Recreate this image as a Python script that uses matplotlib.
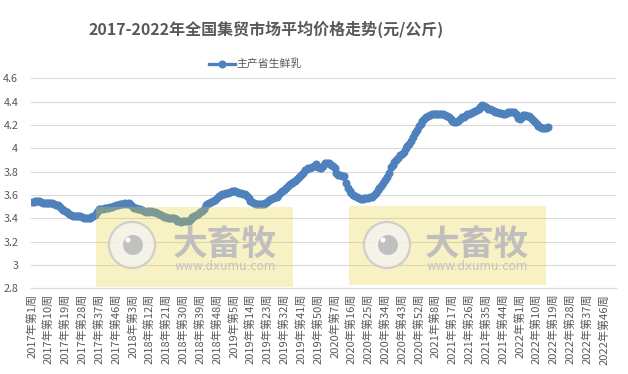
import matplotlib
matplotlib.use("Agg")
import matplotlib.pyplot as plt
from matplotlib.patches import Rectangle, Circle
from matplotlib.lines import Line2D
from matplotlib.ticker import FixedLocator, FuncFormatter

plt.rcParams['font.family'] = ['Noto Sans CJK SC', 'DejaVu Sans']

title = "2017-2022年全国集贸市场平均价格走势(元/公斤)"
series_name = "主产省生鲜乳"

years = [2017, 2018, 2019, 2020, 2021, 2022]
weeks_in_year = [52, 52, 52, 53, 52, 52]

v2017 = [3.54, 3.54, 3.55, 3.55, 3.55, 3.54, 3.535, 3.53, 3.53, 3.53,
         3.53, 3.53, 3.52, 3.51, 3.51, 3.50, 3.48, 3.47, 3.46, 3.45,
         3.44, 3.43, 3.42, 3.42, 3.42, 3.42, 3.42, 3.41, 3.40, 3.40,
         3.40, 3.40, 3.41, 3.42, 3.43, 3.45, 3.48, 3.48, 3.48, 3.49,
         3.49, 3.49, 3.50, 3.50, 3.505, 3.51, 3.51, 3.52, 3.52, 3.52, 3.53, 3.52]
v2018 = [3.53, 3.51, 3.50, 3.49, 3.49, 3.48, 3.48, 3.47, 3.46, 3.455,
         3.46, 3.455, 3.46, 3.455, 3.45, 3.445, 3.44, 3.43, 3.42, 3.41,
         3.41, 3.40, 3.40, 3.40, 3.40, 3.39, 3.38, 3.38, 3.37, 3.375,
         3.38, 3.375, 3.38, 3.39, 3.41, 3.42, 3.43, 3.44, 3.45, 3.46,
         3.48, 3.51, 3.52, 3.53, 3.54, 3.545, 3.56, 3.575, 3.59, 3.60, 3.605, 3.61]
v2019 = [3.615, 3.62, 3.625, 3.63, 3.635, 3.63, 3.625, 3.62, 3.62, 3.61,
         3.605, 3.59, 3.57, 3.55, 3.54, 3.53, 3.525, 3.52, 3.52, 3.52,
         3.525, 3.53, 3.54, 3.555, 3.565, 3.57, 3.58, 3.585, 3.60, 3.62,
         3.63, 3.645, 3.66, 3.68, 3.69, 3.70, 3.71, 3.72, 3.74, 3.755,
         3.77, 3.79, 3.81, 3.825, 3.83, 3.835, 3.84, 3.85, 3.865, 3.84, 3.83, 3.83]
v2020 = [3.85, 3.87, 3.875, 3.87, 3.86, 3.845, 3.83, 3.79, 3.775, 3.77,
         3.765, 3.76, 3.70, 3.66, 3.635, 3.62, 3.60, 3.59, 3.58, 3.57,
         3.565, 3.565, 3.57, 3.57, 3.575, 3.58, 3.585, 3.60, 3.62, 3.645,
         3.66, 3.68, 3.70, 3.725, 3.75, 3.79, 3.84, 3.86, 3.885, 3.90,
         3.92, 3.94, 3.95, 3.97, 4.00, 4.02, 4.04, 4.065, 4.10, 4.13, 4.16, 4.19, 4.21]
v2021 = [4.23, 4.25, 4.265, 4.275, 4.285, 4.29, 4.295, 4.295, 4.29, 4.29,
         4.295, 4.29, 4.285, 4.28, 4.27, 4.25, 4.235, 4.225, 4.225, 4.235,
         4.25, 4.265, 4.27, 4.28, 4.29, 4.295, 4.30, 4.31, 4.32, 4.325,
         4.34, 4.355, 4.37, 4.365, 4.35, 4.34, 4.335, 4.33, 4.32, 4.315,
         4.31, 4.30, 4.30, 4.295, 4.295, 4.305, 4.315, 4.315, 4.315, 4.31, 4.29, 4.26]
v2022 = [4.25, 4.27, 4.285, 4.285, 4.28, 4.275, 4.26, 4.24, 4.225, 4.21,
         4.195, 4.185, 4.175, 4.17, 4.175, 4.18]

yticks = [2.8, 3.0, 3.2, 3.4, 3.6, 3.8, 4.0, 4.2, 4.4, 4.6]
label_step = 9

categories = [f"{y}年第{w}周" for y, n in zip(years, weeks_in_year) for w in range(1, n + 1)]
values = v2017 + v2018 + v2019 + v2020 + v2021 + v2022

W, H = 628, 374
fig = plt.figure(figsize=(W / 100, H / 100), dpi=100)
ax = fig.add_axes([30.7 / W, 1 - 288.3 / H, (616 - 30.7) / W, (288.3 - 78.3) / H])

text_color = '#595959'
grid_color = '#D9D9D9'
blue = '#4F81BD'

x = list(range(len(values)))
ax.plot(x, values, color=blue, lw=2.4, marker='o', ms=4.8, mec=blue, mfc=blue,
        solid_capstyle='round', zorder=3)

ax.set_xlim(-0.5, len(categories) - 0.5)
ax.set_ylim(yticks[0], yticks[-1])
ax.yaxis.set_major_locator(FixedLocator(yticks))
ax.yaxis.set_major_formatter(FuncFormatter(lambda v, p: f"{round(v, 1):g}"))
tick_pos = list(range(0, len(categories), label_step))
ax.set_xticks(tick_pos)
ax.set_xticklabels([categories[i] for i in tick_pos], rotation=90, va='top', ha='center')
ax.tick_params(axis='x', length=0, pad=4, labelsize=8, labelcolor=text_color)
ax.tick_params(axis='y', length=0, pad=9, labelsize=7.8, labelcolor=text_color)
ax.grid(axis='y', color=grid_color, lw=0.8)
ax.set_axisbelow(True)
for s in ['top', 'right', 'left']:
    ax.spines[s].set_visible(False)
ax.spines['bottom'].set_color(grid_color)
ax.spines['bottom'].set_linewidth(0.8)

fig.text(266 / W, 1 - 29 / H, title, ha='center', va='center', fontsize=11.5,
         fontweight='bold', color=text_color)

handle = Line2D([], [], color=blue, lw=2.4, marker='o', ms=4.8, mfc=blue, mec=blue)
fig.legend([handle], [series_name], loc='center', bbox_to_anchor=(255 / W, 1 - 64 / H),
           frameon=False, fontsize=7.8, handlelength=2.4, handletextpad=0.15,
           labelcolor=text_color, borderpad=0)

# watermark overlay
ov = fig.add_axes([0, 0, 1, 1], zorder=10)
ov.set_xlim(0, W)
ov.set_ylim(H, 0)
ov.axis('off')
ov.patch.set_alpha(0)
for (x0, y0, x1, y1, cx, tx) in [(96, 207, 293, 287, 132, 225), (349, 206, 546, 285, 387, 477)]:
    ov.add_patch(Rectangle((x0, y0), x1 - x0, y1 - y0, facecolor=(0.90, 0.82, 0.24), alpha=0.30,
                           edgecolor='none'))
    ov.add_patch(Circle((cx, 245), 23, facecolor=(0.96, 0.96, 0.96), alpha=0.75,
                        edgecolor='#C4C4C4', lw=1.6))
    ov.add_patch(Circle((cx + 1, 245), 10, facecolor='#BBBBBB', edgecolor='none', alpha=0.9))
    ov.add_patch(Circle((cx - 4, 240), 2.5, facecolor='white', edgecolor='none'))
    ov.text(tx, 244, "大畜牧", ha='center', va='center', fontsize=25, fontweight='bold',
            color='#BDBDBD', alpha=0.95)
    ov.text(tx, 267, "www.dxumu.com", ha='center', va='center', fontsize=8.5,
            color='#C4C4C4', family='DejaVu Sans')

fig.savefig('out.png', dpi=100)
